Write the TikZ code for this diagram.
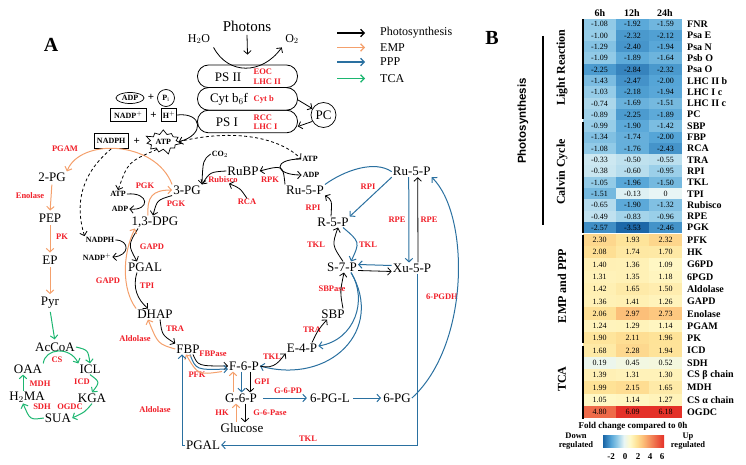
\documentclass[tikz,border=0pt]{standalone}
\usepackage{fontspec}
\setmainfont{Liberation Serif}
\newfontfamily\hmsans{Liberation Sans}
\usetikzlibrary{arrows.meta,shapes.geometric,shapes.symbols}

\definecolor{enzred}{RGB}{240,30,40}
\definecolor{emporange}{RGB}{244,160,108}
\definecolor{pppblue}{RGB}{42,112,160}
\definecolor{tcagreen}{RGB}{28,182,112}
% heat map colour stops
\definecolor{hmA}{RGB}{25,100,165}   % -3.6
\definecolor{hmB}{RGB}{85,165,215}   % -2
\definecolor{hmC}{RGB}{150,205,232}  % -1
\definecolor{hmD}{RGB}{232,245,245}  % 0
\definecolor{hmE}{RGB}{255,249,200}  % 1
\definecolor{hmF}{RGB}{254,226,150}  % 2
\definecolor{hmG}{RGB}{252,190,120}  % 3
\definecolor{hmH}{RGB}{228,48,40}    % 6
\pgfdeclarehorizontalshading{hmbar}{100bp}{color(0bp)=(hmA); color(25bp)=(hmA);
  color(31.6bp)=(hmB); color(36.8bp)=(hmC); color(42.1bp)=(hmD); color(47.3bp)=(hmE);
  color(52.6bp)=(hmF); color(57.8bp)=(hmG); color(75bp)=(hmH); color(100bp)=(hmH)}

\newcommand{\hmcol}[1]{%
  \pgfmathsetmacro{\hv}{#1}%
  \ifdim\hv pt<-2pt \pgfmathtruncatemacro{\hp}{min(100,(-2-\hv)/1.6*100)}\colorlet{cellc}{hmA!\hp!hmB}%
  \else\ifdim\hv pt<-1pt \pgfmathtruncatemacro{\hp}{(-1-\hv)*100}\colorlet{cellc}{hmB!\hp!hmC}%
  \else\ifdim\hv pt<0pt \pgfmathtruncatemacro{\hp}{-\hv*100}\colorlet{cellc}{hmC!\hp!hmD}%
  \else\ifdim\hv pt<1pt \pgfmathtruncatemacro{\hp}{\hv*100}\colorlet{cellc}{hmE!\hp!hmD}%
  \else\ifdim\hv pt<2pt \pgfmathtruncatemacro{\hp}{(\hv-1)*100}\colorlet{cellc}{hmF!\hp!hmE}%
  \else\ifdim\hv pt<3pt \pgfmathtruncatemacro{\hp}{(\hv-2)*100}\colorlet{cellc}{hmG!\hp!hmF}%
  \else \pgfmathtruncatemacro{\hp}{min(100,(\hv-3)/3*100)}\colorlet{cellc}{hmH!\hp!hmG}%
  \fi\fi\fi\fi\fi\fi}

\begin{document}
\begin{tikzpicture}[x=1pt, y=-1pt, >={Straight Barb[length=3.5pt,width=7.5pt]},
  met/.style={font=\fontsize{13}{13}\selectfont, inner sep=1pt},
  enz/.style={font=\bfseries\fontsize{8.5}{9.5}\selectfont, text=enzred, inner sep=0.5pt},
  cof/.style={font=\bfseries\fontsize{8}{8}\selectfont, inner sep=1pt},
  cbox/.style={cof, draw, line width=0.7pt, inner sep=0pt},
  plus/.style={font=\bfseries\fontsize{11}{11}\selectfont, inner sep=0pt},
  blk/.style={->, line width=0.8pt},
  emp/.style={->, draw=emporange, line width=1pt},
  ppp/.style={->, draw=pppblue, line width=1pt},
  tca/.style={->, draw=tcagreen, line width=1pt},
  psbox/.style={draw, line width=0.8pt, rounded corners=11pt, minimum width=100pt, minimum height=22.6pt},
  cell/.style={minimum width=33pt, inner sep=0pt, font=\fontsize{8}{8}\selectfont},
  rowlab/.style={anchor=west, font=\bfseries\fontsize{10}{10}\selectfont, inner sep=0pt},
  grp/.style={rotate=90, font=\bfseries\fontsize{12}{12}\selectfont}]
\useasboundingbox (0,0) rectangle (746,465);

\node[font=\bfseries\fontsize{20}{20}\selectfont] (labA) at (51,45) {A};
\node[font=\bfseries\fontsize{20}{20}\selectfont] (labB) at (492,38) {B};

% light reaction
\node[font=\fontsize{15}{15}\selectfont] (photons) at (247,26) {Photons};
\node[font=\fontsize{12}{12}\selectfont] (h2o) at (199,39) {H$_2$O};
\node[font=\fontsize{12}{12}\selectfont] (o2) at (292,39) {O$_2$};
\node[psbox] (ps2) at (247.5,76.3) {};
\node[psbox] (cyt) at (247.5,98.9) {};
\node[psbox] (ps1) at (247.5,121.5) {};
\node[met] (ps2t) at (228,77) {PS II};
\node[met] (cytt) at (229,99.5) {Cyt b$_6$f};
\node[met] (ps1t) at (227,122) {PS I};
\node[enz, align=left, anchor=west] (ps2e) at (253,76.5) {EOC\\LHC II};
\node[enz, anchor=west] (cyte) at (253,99) {Cyt b};
\node[enz, align=left, anchor=west] (ps1e) at (253,122) {RCC\\LHC I};
\node[draw, circle, minimum size=25pt, inner sep=0pt, line width=0.7pt, font=\fontsize{13}{13}\selectfont] (pc) at (323.5,115) {PC};
\draw[blk] (photons.south) -- ([yshift=10pt]ps2.north);
\draw[blk] (h2o.south east) .. controls (228,75) and (262,75) .. (o2.south west);
\draw[blk] ([yshift=-1pt]cyt.east) -- (pc.150);
\draw[blk] (pc.210) -- ([yshift=-5pt]ps1.east);

\node[cbox, ellipse, minimum width=28pt, minimum height=11pt] (adp1) at (130,98) {ADP};
\node[plus] (plus1) at (151,97.5) {+};
\node[cbox, circle, minimum size=17pt] (pi) at (166,98) {P$_\mathrm{i}$};
\node[cbox, minimum width=36.7pt, minimum height=13.3pt] (nadp1) at (128.3,115) {NADP$^+$};
\node[plus] (plus2) at (153.5,115.5) {+};
\node[cbox, minimum width=15pt, minimum height=13.3pt] (hplus) at (169,115) {H$^+$};
\node[cbox, minimum width=34.3pt, minimum height=14.7pt] (nadph1) at (111.2,141.2) {NADPH};
\node[plus] (plus3) at (136.7,141.7) {+};
\node[cbox, starburst, starburst points=11, starburst point height=6pt, minimum width=38pt, minimum height=27pt] (atp1) at (163.3,141.7) {ATP};
\draw[blk] (hplus.east) .. controls (203,112) and (205,135) .. (atp1.east);

% legend
\node[anchor=west, font=\fontsize{12}{12}\selectfont, inner sep=0pt] (lg1) at (380,33) {Photosynthesis};
\node[anchor=west, font=\fontsize{12}{12}\selectfont, inner sep=0pt] (lg2) at (380,47.5) {EMP};
\node[anchor=west, font=\fontsize{12}{12}\selectfont, inner sep=0pt] (lg3) at (380,62) {PPP};
\node[anchor=west, font=\fontsize{12}{12}\selectfont, inner sep=0pt] (lg4) at (380,78.5) {TCA};
\draw[blk, line width=1.3pt] ([xshift=-43pt]lg1.west) -- ([xshift=-15pt]lg1.west);
\draw[emp, line width=1.3pt] ([xshift=-43pt]lg2.west) -- ([xshift=-15pt]lg2.west);
\draw[ppp, line width=1.3pt] ([xshift=-43pt]lg3.west) -- ([xshift=-15pt]lg3.west);
\draw[tca, line width=1.3pt] ([xshift=-43pt]lg4.west) -- ([xshift=-15pt]lg4.west);

% glycolysis and TCA
\node[met] (pg2) at (52,177) {2-PG};
\node[met] (pep) at (50,218) {PEP};
\node[met] (ep) at (50,260) {EP};
\node[met] (pyr) at (50,303) {Pyr};
\node[met] (accoa) at (55,347) {AcCoA};
\node[met] (oaa) at (28,369) {OAA};
\node[met] (icl) at (90,369) {ICL};
\node[met] (kga) at (92,398) {KGA};
\node[met] (sua) at (58,418) {SUA};
\node[met] (h2ma) at (27,397) {H$_2$MA};
\node[enz] (pgam) at (65,149) {PGAM};
\node[enz] (enol) at (30,196) {Enolase};
\node[enz] (pk) at (62,237) {PK};
\node[enz] (cs) at (57,360) {CS};
\node[enz] (icd) at (82,382) {ICD};
\node[enz] (mdh) at (40,384) {MDH};
\node[enz] (sdh) at (42,407) {SDH};
\node[enz] (ogdc) at (70,407) {OGDC};
\draw[emp, shorten <=2pt, shorten >=2pt] (pg2.south) -- (pep.north);
\draw[emp, shorten <=2pt, shorten >=2pt] (pep.south) -- (ep.north);
\draw[emp, shorten <=2pt, shorten >=2pt] (ep.south) -- (pyr.north);
\draw[tca, shorten <=2pt, shorten >=2pt] (pyr.south) -- (accoa.north);
\draw[tca] (oaa.north east) .. controls (45,348) and (70,346) .. (icl.north west);
\draw[tca] (accoa.east) .. controls (88,350) .. (icl.north);
\draw[tca] (icl.south) .. controls (100,382) .. (kga.north);
\draw[tca] (kga.south) .. controls (85,412) .. (sua.east);
\draw[tca] (sua.west) .. controls (30,420) .. ([xshift=-4pt]h2ma.south);
\draw[tca] ([xshift=-4pt]h2ma.north) -- ([xshift=-5pt]oaa.south);

% Calvin cycle
\node[met] (pg3) at (187,190) {3-PG};
\node[met] (dpg) at (155,222) {1,3-DPG};
\node[met] (pgal) at (145,267) {PGAL};
\node[met] (dhap) at (155,314) {DHAP};
\node[met] (fbp) at (188,349) {FBP};
\node[met] (rubp) at (243,171) {RuBP};
\node[met] (ru5p) at (305,190) {Ru-5-P};
\node[met] (r5p) at (333,222) {R-5-P};
\node[met] (s7p) at (342,267) {S-7-P};
\node[met] (sbp) at (333,314) {SBP};
\node[met] (e4p) at (302,348) {E-4-P};
\node[met] (f6p) at (244,366) {F-6-P};
\node[met] (g6p) at (241,398) {G-6-P};
\node[met] (glc) at (242,428) {Glucose};
\node[met] (pgl) at (330,398) {6-PG-L};
\node[met] (pg6) at (397,398) {6-PG};
\node[met] (pgal2) at (203,445) {PGAL};
\node[met] (ru5pr) at (411.7,171.7) {Ru-5-P};
\node[met] (xu5p) at (412,268) {Xu-5-P};
\node[cof] (atp2) at (310,159) {ATP};
\node[cof] (adp2) at (311,175) {ADP};
\node[cof] (atp3) at (118,194) {ATP};
\node[cof] (adp3) at (120,209) {ADP};
\node[cof] (nadph2) at (100,240) {NADPH};
\node[cof] (nadp2) at (97,257) {NADP$^+$};
\node[cof] (co2) at (220,154) {CO$_2$};
\node[enz] (pgk1) at (145,186) {PGK};
\node[enz] (pgk2) at (176,204) {PGK};
\node[enz] (gapd1) at (152,247) {GAPD};
\node[enz] (gapd2) at (108,281) {GAPD};
\node[enz] (tpi) at (147,286) {TPI};
\node[enz] (tra1) at (175,329) {TRA};
\node[enz] (aldo1) at (135,339) {Aldolase};
\node[enz] (aldo2) at (155,410) {Aldolase};
\node[enz] (fbpase) at (213,354) {FBPase};
\node[enz] (pfk) at (197,375) {PFK};
\node[enz] (rubisco) at (223,180) {Rubisco};
\node[enz] (rca) at (247,202) {RCA};
\node[enz] (rpk) at (270,180) {RPK};
\node[enz] (rpi1) at (313,208) {RPI};
\node[enz] (rpi2) at (368,187) {RPI};
\node[enz] (rpe1) at (397,220) {RPE};
\node[enz] (rpe2) at (429,220) {RPE};
\node[enz] (tkl1) at (316,245) {TKL};
\node[enz] (tkl2) at (368,245) {TKL};
\node[enz] (sbpase) at (332,289) {SBPase};
\node[enz] (tra2) at (312,330) {TRA};
\node[enz] (tkl3) at (272,357) {TKL};
\node[enz] (gpi) at (262,382) {GPI};
\node[enz] (hk) at (222,413) {HK};
\node[enz] (g6pase) at (270,413) {G-6-Pase};
\node[enz] (g6pd) at (288,391) {G-6-PD};
\node[enz] (pgdh) at (442,297) {6-PGDH};
\node[enz] (tkl4) at (308,439) {TKL};

\draw[emp] (pg3.north west) .. controls (155,140) and (80,138) .. (pg2.north east);
\draw[blk, dash pattern=on 3pt off 2.5pt] (atp1.east) .. controls (235,128) and (280,138) .. (atp2.west);
\draw[blk, dash pattern=on 3pt off 2.5pt] (nadph1.south) .. controls (80,175) and (75,205) .. (nadph2.north west);
\draw[blk, dash pattern=on 3pt off 2.5pt] (atp1.230) .. controls (128,162) .. (atp3.north);
\draw[blk] (atp3.east) .. controls (150,192) and (150,211) .. (adp3.east);
\draw[emp] ([xshift=-7pt]dpg.north) .. controls (147,197) and (152,190) .. (pg3.west);
\draw[blk] (pg3.south west) .. controls (157,200) .. ([xshift=-2pt]dpg.north);
\draw[blk] (nadph2.east) .. controls (130,240) and (130,256) .. (nadp2.east);
\draw[blk] ([xshift=-17pt]dpg.south) .. controls (128,245) .. ([xshift=-8pt]pgal.north);
\draw[emp] (dhap.north west) .. controls (122,290) and (122,255) .. ([xshift=-20pt]dpg.south);
\draw[blk] ([xshift=-8pt]pgal.south) .. controls (132,288) and (138,300) .. ([xshift=-7pt]dhap.north);
\draw[blk] ([xshift=5pt]dhap.south) .. controls (162,335) .. (fbp.north west);
\draw[emp] (fbp.west) .. controls (158,344) .. ([xshift=-7pt]dhap.south);
\draw[blk] ([xshift=5pt]fbp.south) .. controls (198,366) .. (f6p.west);
\draw[ppp] ([xshift=2pt]fbp.south) .. controls (196,370) .. ([yshift=-3pt]f6p.west);
\draw[emp] ([xshift=-6pt]f6p.south west) .. controls (198,375) .. ([xshift=-2pt]fbp.south);
\draw[ppp] (pgal2.west) -| ([xshift=-6pt]fbp.south);
\draw[blk] (co2.west) .. controls (203,160) .. (pg3.north east);
\draw[blk] (rubp.west) .. controls (210,172) .. (pg3.north east);
\draw[blk] (rca.north) .. controls (240,188) .. ([xshift=6pt]rubisco.south);
\draw[blk] (ru5p.north west) .. controls (283,165) .. (rubp.east);
\draw[blk] (atp2.west) .. controls (272,159) and (274,175) .. (adp2.west);
\draw[blk] ([xshift=-2pt]r5p.north) .. controls (332,200) .. (ru5p.south east);
\draw[ppp, -] (ru5p.north east) .. controls (345,170) and (375,160) .. (ru5pr.west);
\draw[ppp] (ru5pr.south west) -- (r5p.north east);
\draw[ppp] ([xshift=-3pt]ru5pr.south) -- ([xshift=-3pt]xu5p.north);
\draw[blk] ([xshift=6pt]xu5p.north) -- ([xshift=6pt]ru5pr.south);
\draw[ppp] ([yshift=2.5pt]xu5p.west) -- ([yshift=2.5pt]s7p.east);
\draw[blk] ([yshift=-3.5pt]s7p.east) -- ([yshift=-3.5pt]xu5p.west);
\draw[blk] ([xshift=1pt]s7p.north) .. controls (332,245) .. ([xshift=5pt]r5p.south);
\draw[ppp] ([xshift=10pt]r5p.south) .. controls (360,242) .. ([xshift=9pt]s7p.north);
\draw[blk] ([xshift=10pt]sbp.north) .. controls (340,292) .. ([xshift=2pt]s7p.south);
\draw[ppp] ([xshift=9pt]s7p.south) .. controls (368,300) and (355,340) .. ([yshift=2pt]e4p.east);
\draw[ppp] ([xshift=9pt]s7p.south) .. controls (385,330) and (330,385) .. (f6p.east);
\draw[blk] ([xshift=10pt]e4p.north) .. controls (318,330) .. ([xshift=-6pt]sbp.south);
\draw[blk] (f6p.east) .. controls (275,370) and (280,360) .. (e4p.south west);
\draw[emp] ([xshift=-8pt]g6p.north) -- ([xshift=-11pt]f6p.south);
\draw[ppp] ([xshift=-2.3pt]f6p.south) -- ([xshift=0.7pt]g6p.north);
\draw[blk] ([xshift=6pt]f6p.south) -- ([xshift=9pt]g6p.north);
\draw[emp] ([xshift=-6pt]glc.north) -- ([xshift=-5pt]g6p.south);
\draw[blk] ([xshift=4pt]g6p.south) -- ([xshift=3pt]glc.north);
\draw[ppp, shorten <=5pt, shorten >=2pt] (g6p.east) -- (pgl.west);
\draw[ppp, shorten <=2pt, shorten >=1pt] (pgl.east) -- (pg6.west);
\draw[ppp] (pg6.east) .. controls (470,345) and (470,215) .. (ru5pr.south east);
\draw[ppp] ([xshift=5pt]xu5p.south) |- (pgal2.east);

% heat map
\node[font=\bfseries\fontsize{10}{10}\selectfont] (h6) at (600,13) {6h};
\node[font=\bfseries\fontsize{10}{10}\selectfont] (h12) at (632,13) {12h};
\node[font=\bfseries\fontsize{10}{10}\selectfont] (h24) at (665,13) {24h};
\foreach \lab/\va/\vb/\vc [count=\i from 0] in {FNR/-1.08/-1.92/-1.59, Psa E/-1.00/-2.32/-2.12,
    Psa N/-1.29/-2.40/-1.94, Psb O/-1.09/-1.89/-1.64, Psa O/-2.25/-2.84/-2.32,
    LHC II b/-1.43/-2.47/-2.00, LHC I c/-1.03/-2.18/-1.94, LHC II c/-0.74/-1.69/-1.51,
    PC/-0.89/-2.25/-1.89, SBP/-0.99/-1.90/-1.42, FBP/-1.34/-1.74/-2.00, RCA/-1.08/-1.76/-2.43,
    TRA/-0.33/-0.50/-0.55, RPI/-0.38/-0.60/-0.95, TKL/-1.05/-1.96/-1.50, TPI/-1.51/-0.13/0,
    Rubisco/-0.65/-1.90/-1.32, RPE/-0.49/-0.83/-0.96, PGK/-2.57/-3.53/-2.46} {
  \foreach \v [count=\k from 0] in {\va,\vb,\vc} {
    \hmcol{\v}
    \node[cell, minimum height=11.5pt, fill=cellc] (hb\i-\k) at ({599.5+33*\k},{24.3+11.3*\i}) {\v};
  }
  \node[rowlab] (hbl\i) at (687,{24.3+11.3*\i}) {\lab};
}
\foreach \lab/\va/\vb/\vc [count=\i from 0] in {PFK/2.30/1.93/2.32, HK/2.08/1.74/1.70,
    G6PD/1.40/1.36/1.09, 6PGD/1.31/1.35/1.18, Aldolase/1.42/1.65/1.50, GAPD/1.36/1.41/1.26,
    Enolase/2.06/2.97/2.73, PGAM/1.24/1.29/1.14, PK/1.90/2.11/1.96, ICD/1.68/2.28/1.94,
    SDH/0.19/0.45/0.52, CS β chain/1.39/1.31/1.30, MDH/1.99/2.15/1.65,
    CS α chain/1.05/1.14/1.27, OGDC/4.80/6.09/6.18} {
  \foreach \v [count=\k from 0] in {\va,\vb,\vc} {
    \hmcol{\v}
    \node[cell, minimum height=12.5pt, fill=cellc] (hy\i-\k) at ({599.5+33*\k},{240+12.29*\i}) {\v};
  }
  \node[rowlab] (hyl\i) at (687,{240+12.29*\i}) {\lab};
}
\draw[line width=2.2pt, shorten <=1pt, shorten >=1.5pt] (hb0-0.north west) -- (hb8-0.south west);
\draw[line width=2.2pt, shorten <=1.5pt, shorten >=1pt] (hb9-0.north west) -- (hb18-0.south west);
\draw[line width=2.2pt, shorten <=1pt, shorten >=1.5pt] (hy0-0.north west) -- (hy8-0.south west);
\draw[line width=2.2pt, shorten <=1.5pt, shorten >=0pt] (hy9-0.north west) -- (hy14-0.south west);
\node[rotate=90, font=\hmsans\bfseries\fontsize{11.5}{11.5}\selectfont] (gphoto) at (523,121) {Photosynthesis};
\node[grp] (glight) at (562,67.5) {Light Reaction};
\node[grp] (gcalvin) at (562,172) {Calvin Cycle};
\node[grp] (gemp) at (562,286) {EMP and PPP};
\node[grp] (gtca) at (562,379) {TCA};
\coordinate (pbar1) at (543,36);
\coordinate (pbar2) at (543,225);
\draw[line width=2pt] (pbar1) -- (pbar2);

% colour bar
\node[font=\bfseries\fontsize{9}{9}\selectfont] (fold) at (633,426) {Fold change compared to 0h};
\node[shade, shading=hmbar, minimum width=61pt, minimum height=12pt, inner sep=0pt] (cbar) at (633.5,441) {};
\node[font=\bfseries\fontsize{8.5}{9}\selectfont, align=center] (down) at (576,441) {Down\\regulated};
\node[font=\bfseries\fontsize{8.5}{9}\selectfont, align=center] (up) at (688,441) {Up\\regulated};
\foreach \t/\tx in {-2/611,0/625,2/638,4/650,6/662}
  \node[font=\bfseries\fontsize{9}{9}\selectfont] (tk\tx) at (\tx,457) {\t};
\end{tikzpicture}
\end{document}
